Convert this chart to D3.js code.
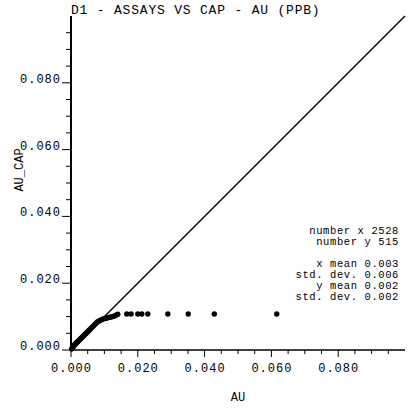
<!DOCTYPE html>
<html><head><meta charset="utf-8">
<script src="https://cdn.jsdelivr.net/npm/d3@7"></script>
<style>
body{margin:0;background:#fff;}
svg{display:block;}
text{font-family:"Liberation Mono","DejaVu Sans Mono",monospace;fill:#000;}
</style></head>
<body>
<script>
// Data (quantile pairs)
const xVals = [0.0002,0.0004,0.0006,0.0008,0.0010,0.0012,0.0014,0.0016,0.0018,0.0020,0.0023,0.0026,0.0029,0.0032,0.0035,0.0038,0.0041,0.0044,0.0047,0.0050,0.0053,0.0056,0.0059,0.0062,0.0065,0.0068,0.0071,0.0074,0.0077,0.0080,0.0084,0.0088,0.0092,0.0096,0.0100,0.0104,0.0108,0.0112,0.0116,0.0120,0.0124,0.0128,0.0132,0.0136,0.0140,0.0167,0.0180,0.0200,0.0212,0.0230,0.0290,0.0351,0.0429,0.0616];
const yVals = [0.0003,0.0006,0.0009,0.0012,0.0014,0.0017,0.0019,0.0021,0.0023,0.0025,0.0028,0.0031,0.0034,0.0037,0.0040,0.0043,0.0046,0.0049,0.0052,0.0055,0.0058,0.0061,0.0064,0.0067,0.0070,0.0073,0.0076,0.0079,0.0082,0.0085,0.0087,0.0089,0.0091,0.0093,0.0094,0.0095,0.0096,0.0097,0.0098,0.0099,0.0100,0.0101,0.0103,0.0105,0.0107,0.0108,0.0108,0.0108,0.0108,0.0108,0.0108,0.0108,0.0108,0.0108];
const majorTicks = [0,0.02,0.04,0.06,0.08];
const minorTicks = [0.005,0.01,0.015,0.025,0.03,0.035,0.045,0.05,0.055,0.065,0.07,0.075,0.085,0.09,0.095];
const domainMax = 0.1;
const title = "D1 - ASSAYS VS CAP - AU (PPB)";
const xLabel = "AU";
const yLabel = "AU_CAP";
const statsLines = ["number x 2528","number y 515","","x mean 0.003","std. dev. 0.006","y mean 0.002","std. dev. 0.002"];

const W=409,H=410;
const svg=d3.select("body").append("svg").attr("width",W).attr("height",H);
const x=d3.scaleLinear().domain([0,domainMax]).range([71,405]);
const y=d3.scaleLinear().domain([0,domainMax]).range([350,16]);

// title
svg.append("text").attr("x",71).attr("y",14).style("font-size","13px").style("letter-spacing","0.8px").text(title);

// diagonal
svg.append("line").attr("x1",x(0)).attr("y1",y(0)).attr("x2",x(domainMax)).attr("y2",y(domainMax))
  .attr("stroke","#000").attr("stroke-width",1.5);

// x axis
const gx=svg.append("g").attr("transform",`translate(0,${y(0)})`);
gx.append("line").attr("x1",x(0)).attr("x2",x(domainMax)).attr("stroke","#000").attr("stroke-width",1.5);
gx.selectAll(".mj").data(majorTicks).join("line").attr("x1",d=>x(d)).attr("x2",d=>x(d)).attr("y1",0).attr("y2",7).attr("stroke","#000");
gx.selectAll(".mn").data(minorTicks).join("line").attr("class","mn").attr("x1",d=>x(d)).attr("x2",d=>x(d)).attr("y1",0).attr("y2",4).attr("stroke","#000");
gx.selectAll("text").data(majorTicks).join("text").attr("x",d=>x(d)+0.5).attr("y",22).attr("text-anchor","middle")
  .style("font-size","12px").style("letter-spacing","1px").text(d=>d3.format(".3f")(d));

// y axis
const gy=svg.append("g").attr("transform",`translate(${x(0)},0)`);
gy.append("line").attr("y1",y(0)).attr("y2",y(domainMax)).attr("stroke","#000").attr("stroke-width",2);
gy.selectAll(".mj").data(majorTicks).join("line").attr("y1",d=>y(d)).attr("y2",d=>y(d)).attr("x1",-9).attr("x2",0).attr("stroke","#000");
gy.selectAll(".mn").data(minorTicks).join("line").attr("class","mn").attr("y1",d=>y(d)).attr("y2",d=>y(d)).attr("x1",-5).attr("x2",0).attr("stroke","#000");
gy.selectAll("text").data(majorTicks).join("text").attr("x",-10).attr("y",d=>y(d)).attr("text-anchor","end")
  .style("font-size","12px").style("letter-spacing","1px").text(d=>d3.format(".3f")(d));

// axis labels
svg.append("text").attr("x",238).attr("y",401).attr("text-anchor","middle").style("font-size","12px").text(xLabel);
svg.append("text").attr("transform","translate(23,170) rotate(-90)").attr("text-anchor","middle").style("font-size","12px").text(yLabel);

// points
const pts=xVals.map((v,i)=>[v,yVals[i]]);
svg.append("g").selectAll("circle").data(pts).join("circle")
  .attr("cx",d=>x(d[0])).attr("cy",d=>y(d[1])).attr("r",2.7).attr("fill","#000");

// stats
svg.append("g").selectAll("text").data(statsLines).join("text")
  .attr("x",399).attr("y",(d,i)=>233.5+i*11).attr("text-anchor","end")
  .style("font-size","10.5px").style("letter-spacing","0.6px").text(d=>d);
</script>
</body></html>
